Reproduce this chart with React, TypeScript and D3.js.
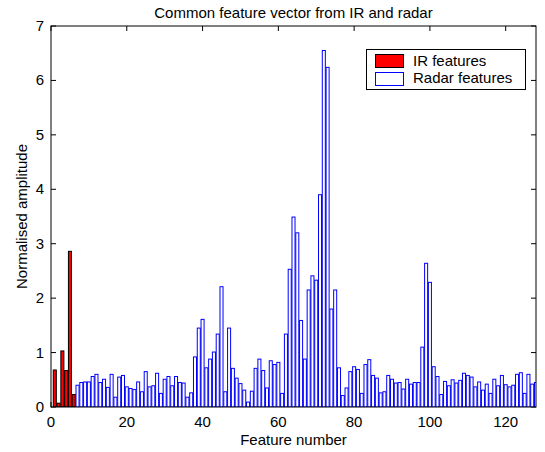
import React from "react";
import * as d3 from "d3";

const title = "Common feature vector from IR and radar";
const xLabel = "Feature number";
const yLabel = "Normalised amplitude";
const legendLabels = ["IR features", "Radar features"];

const xTicks = [0, 20, 40, 60, 80, 100, 120];
const yTicks = [0, 1, 2, 3, 4, 5, 6, 7];

const irStart = 1;
const irValues = [0.68, 0.07, 1.03, 0.67, 2.86, 0.23];

const radarStart = 7;
const radarValues = [
  0.40, 0.45, 0.46, 0.46, 0.56, 0.60, 0.45, 0.51, 0.36, 0.60,
  0.18, 0.55, 0.58, 0.37, 0.34, 0.32, 0.46, 0.28, 0.65, 0.37,
  0.39, 0.62, 0.25, 0.51, 0.56, 0.39, 0.56, 0.45, 0.44, 0.18,
  0.26, 0.92, 1.45, 1.61, 0.72, 0.88, 1.01, 1.34, 2.21, 0.28,
  1.45, 0.71, 0.53, 0.43, 0.31, 0.09, 0.29, 0.71, 0.88, 0.67,
  0.35, 0.85, 0.78, 0.82, 0.25, 1.34, 2.53, 3.49, 3.20, 1.59,
  0.88, 2.15, 2.41, 2.33, 3.90, 6.55, 6.24, 1.80, 2.15, 0.72,
  0.21, 0.35, 0.65, 0.74, 0.69, 0.25, 0.78, 0.87, 0.58, 0.53,
  0.26, 0.28, 0.58, 0.51, 0.44, 0.45, 0.33, 0.51, 0.42, 0.45,
  0.45, 1.10, 2.64, 2.29, 0.74, 0.56, 0.23, 0.47, 0.39, 0.50,
  0.44, 0.49, 0.62, 0.58, 0.55, 0.37, 0.46, 0.31, 0.42, 0.25,
  0.51, 0.39, 0.58, 0.41, 0.37, 0.40, 0.60, 0.63, 0.25, 0.60,
  0.42, 0.45,
];

const W = 545;
const H = 452;
const M = { left: 51, right: 536, top: 26, bottom: 407 };
const FONT = "'Liberation Sans', Arial, Helvetica, sans-serif";
const FS = 15;

export default function App() {
  const x = d3.scaleLinear().domain([0, 128]).range([M.left, M.right]);
  const y = d3.scaleLinear().domain([0, 7]).range([M.bottom, M.top]);
  const bw = x(0.8) - x(0);
  const tick = 5;

  const ir = irValues.map((v, i) => ({ f: irStart + i, v }));
  const radar = radarValues.map((v, i) => ({ f: radarStart + i, v }));

  return (
    <svg
      width={W}
      height={H}
      style={{ position: "absolute", left: 0, top: 0, background: "#fff" }}
      fontFamily={FONT}
    >
      <rect x={0} y={0} width={W} height={H} fill="#fff" />
      <defs>
        <clipPath id="plotclip">
          <rect x={M.left} y={M.top} width={M.right - M.left} height={M.bottom - M.top} />
        </clipPath>
      </defs>
      {/* ticks (under data) */}
      {xTicks.map((t) => (
        <g key={"xt" + t}>
          <line x1={x(t)} x2={x(t)} y1={M.bottom} y2={M.bottom - tick} stroke="#000" />
          <line x1={x(t)} x2={x(t)} y1={M.top} y2={M.top + tick} stroke="#000" />
        </g>
      ))}
      {yTicks.map((t) => (
        <g key={"yt" + t}>
          <line x1={M.left} x2={M.left + tick} y1={y(t)} y2={y(t)} stroke="#000" />
          <line x1={M.right} x2={M.right - tick} y1={y(t)} y2={y(t)} stroke="#000" />
        </g>
      ))}
      <g clipPath="url(#plotclip)">
        {ir.map((d) => (
          <rect
            key={"ir" + d.f}
            x={x(d.f) - bw / 2}
            y={y(d.v)}
            width={bw}
            height={y(0) - y(d.v)}
            fill="#ff0000"
            stroke="#000"
            strokeWidth={1}
          />
        ))}
        {radar.map((d) => (
          <rect
            key={"rd" + d.f}
            x={x(d.f) - bw / 2}
            y={y(d.v)}
            width={bw}
            height={y(0) - y(d.v)}
            fill="#fff"
            stroke="#0000ff"
            strokeWidth={1}
          />
        ))}
      </g>
      {/* axes box */}
      <rect
        x={M.left}
        y={M.top}
        width={M.right - M.left}
        height={M.bottom - M.top}
        fill="none"
        stroke="#000"
        strokeWidth={1}
      />
      {xTicks.map((t) => (
        <text key={"xl" + t} x={x(t)} y={M.bottom + 20} fontSize={FS} textAnchor="middle">
          {t}
        </text>
      ))}
      {yTicks.map((t) => (
        <text key={"yl" + t} x={M.left - 7} y={y(t) + 5} fontSize={FS} textAnchor="end">
          {t}
        </text>
      ))}
      <text x={(M.left + M.right) / 2} y={18} fontSize={FS} textAnchor="middle">
        {title}
      </text>
      <text x={(M.left + M.right) / 2} y={445} fontSize={FS} textAnchor="middle">
        {xLabel}
      </text>
      <text
        transform={`translate(27,${(M.top + M.bottom) / 2}) rotate(-90)`}
        fontSize={FS}
        textAnchor="middle"
      >
        {yLabel}
      </text>
      {/* legend */}
      <g>
        <rect x={366.5} y={49.5} width={159} height={40} fill="#fff" stroke="#000" />
        <rect x={375.5} y={54.5} width={28} height={13} fill="#ff0000" stroke="#000" />
        <rect x={375.5} y={72.5} width={28} height={13} fill="#fff" stroke="#0000ff" />
        <text x={413} y={66} fontSize={FS}>
          {legendLabels[0]}
        </text>
        <text x={413} y={83} fontSize={FS}>
          {legendLabels[1]}
        </text>
      </g>
    </svg>
  );
}
